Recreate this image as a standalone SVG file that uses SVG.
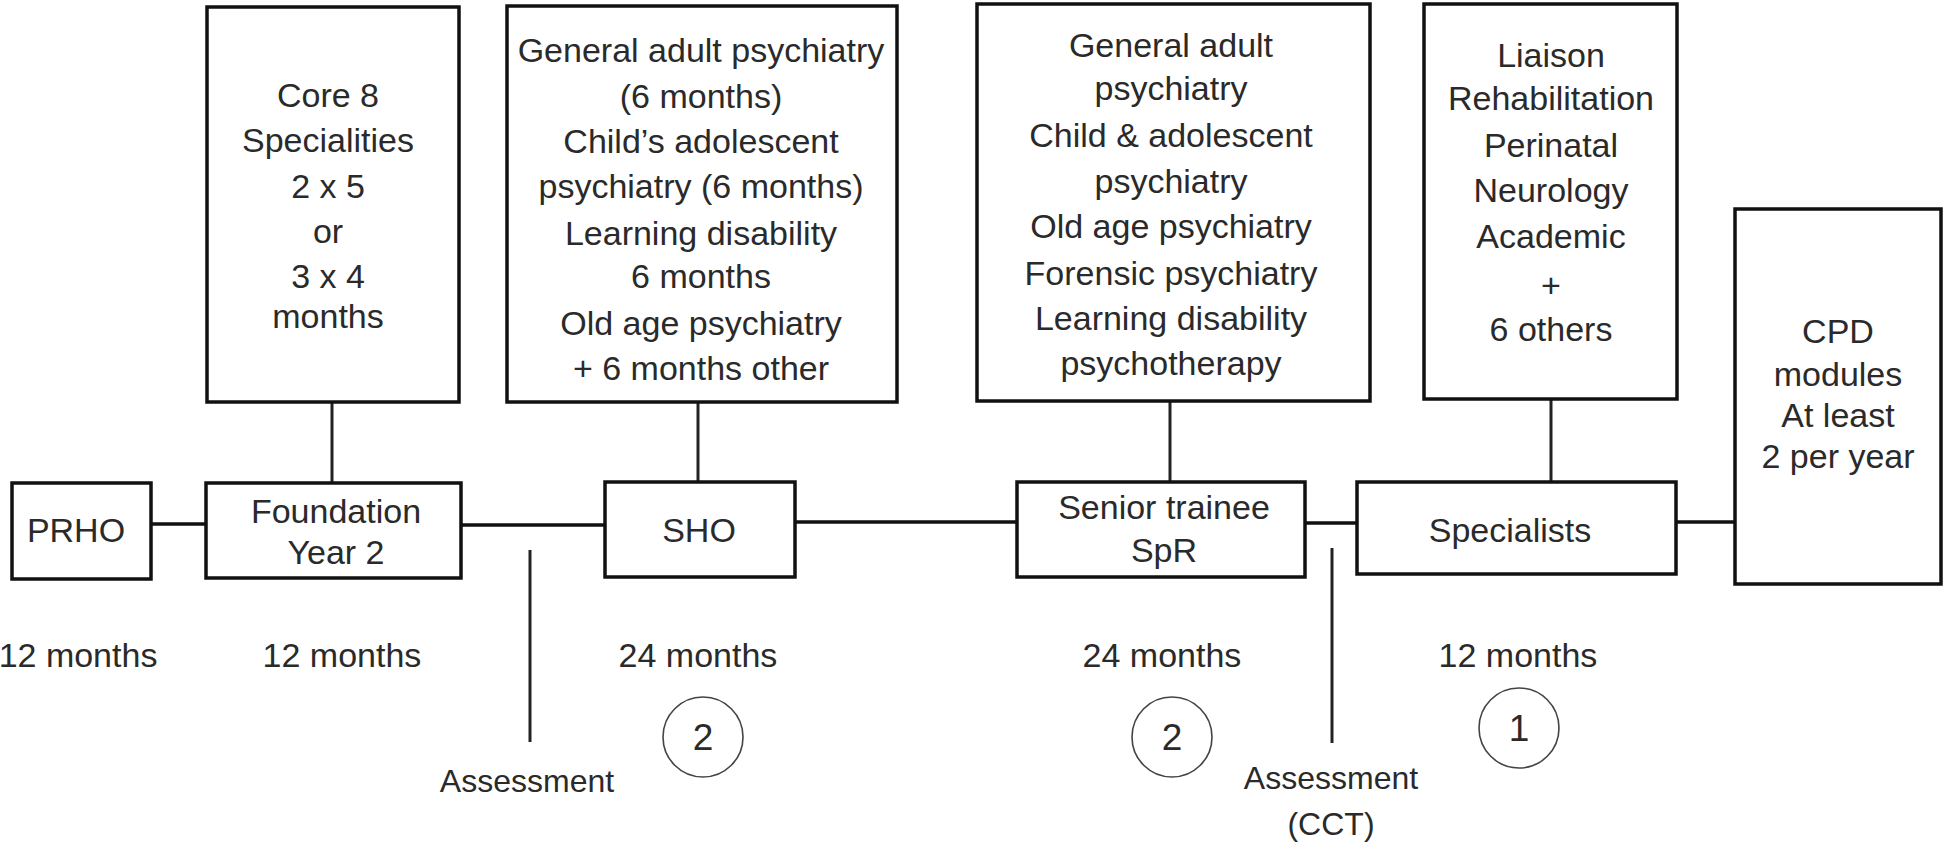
<svg xmlns="http://www.w3.org/2000/svg" width="1946" height="847" viewBox="0 0 1946 847">
<style>
  .box { fill: #fff; stroke: #111; stroke-width: 3.5; }
  .ln { stroke: #111; stroke-width: 3.5; fill: none; }
  .vl { stroke: #222; stroke-width: 3; fill: none; }
  .circ { fill: none; stroke: #444; stroke-width: 1.6; }
  text { font-family: "Liberation Sans", Arial, sans-serif; font-size: 34px; fill: #2a2a2a; text-anchor: middle; }
  .sm { font-size: 32px; }
  .num { font-size: 37px; }
</style>
<rect width="1946" height="847" fill="#fff"/>

<g id="connectors">
  <line class="vl" x1="332" y1="402" x2="332" y2="483"/>
  <line class="vl" x1="698" y1="402" x2="698" y2="482"/>
  <line class="vl" x1="1170" y1="401" x2="1170" y2="482"/>
  <line class="vl" x1="1551" y1="399" x2="1551" y2="481"/>
  <line class="ln" x1="151" y1="524" x2="206" y2="524"/>
  <line class="ln" x1="461" y1="525" x2="605" y2="525"/>
  <line class="ln" x1="795" y1="522" x2="1017" y2="522"/>
  <line class="ln" x1="1305" y1="523" x2="1357" y2="523"/>
  <line class="ln" x1="1676" y1="522" x2="1735" y2="522"/>
  <line class="vl" x1="530" y1="550" x2="530" y2="742"/>
  <line class="vl" x1="1332" y1="548" x2="1332" y2="743"/>
</g>

<g id="core8">
  <rect class="box" x="207" y="7" width="252" height="395"/>
  <text x="328" y="107">Core 8</text>
  <text x="328" y="152">Specialities</text>
  <text x="328" y="198">2 x 5</text>
  <text x="328" y="243">or</text>
  <text x="328" y="288">3 x 4</text>
  <text x="328" y="328">months</text>
</g>

<g id="sho-rotations">
  <rect class="box" x="507" y="6" width="390" height="396"/>
  <text x="701" y="62">General adult psychiatry</text>
  <text x="701" y="108">(6 months)</text>
  <text x="701" y="153">Child’s adolescent</text>
  <text x="701" y="198">psychiatry (6 months)</text>
  <text x="701" y="245">Learning disability</text>
  <text x="701" y="288">6 months</text>
  <text x="701" y="335">Old age psychiatry</text>
  <text x="701" y="380">+ 6 months other</text>
</g>

<g id="spr-specialties">
  <rect class="box" x="977" y="4" width="393" height="397"/>
  <text x="1171" y="57">General adult</text>
  <text x="1171" y="100">psychiatry</text>
  <text x="1171" y="147">Child &amp; adolescent</text>
  <text x="1171" y="193">psychiatry</text>
  <text x="1171" y="238">Old age psychiatry</text>
  <text x="1171" y="285">Forensic psychiatry</text>
  <text x="1171" y="330">Learning disability</text>
  <text x="1171" y="375">psychotherapy</text>
</g>

<g id="subspecialties">
  <rect class="box" x="1424" y="4" width="253" height="395"/>
  <text x="1551" y="67">Liaison</text>
  <text x="1551" y="110">Rehabilitation</text>
  <text x="1551" y="157">Perinatal</text>
  <text x="1551" y="202">Neurology</text>
  <text x="1551" y="248">Academic</text>
  <text x="1551" y="297">+</text>
  <text x="1551" y="341">6 others</text>
</g>

<g id="prho">
  <rect class="box" x="12" y="483" width="139" height="96"/>
  <text x="76" y="542">PRHO</text>
</g>

<g id="foundation">
  <rect class="box" x="206" y="483" width="255" height="95"/>
  <text x="336" y="523">Foundation</text>
  <text x="336" y="564">Year 2</text>
</g>

<g id="sho">
  <rect class="box" x="605" y="482" width="190" height="95"/>
  <text x="699" y="542">SHO</text>
</g>

<g id="senior">
  <rect class="box" x="1017" y="482" width="288" height="95"/>
  <text x="1164" y="519">Senior trainee</text>
  <text x="1164" y="562">SpR</text>
</g>

<g id="specialists">
  <rect class="box" x="1357" y="482" width="319" height="92"/>
  <text x="1510" y="542">Specialists</text>
</g>

<g id="cpd">
  <rect class="box" x="1735" y="209" width="206" height="375"/>
  <text x="1838" y="343">CPD</text>
  <text x="1838" y="386">modules</text>
  <text x="1838" y="427">At least</text>
  <text x="1838" y="468">2 per year</text>
</g>

<g id="durations">
  <text x="78" y="667">12 months</text>
  <text x="342" y="667">12 months</text>
  <text x="698" y="667">24 months</text>
  <text x="1162" y="667">24 months</text>
  <text x="1518" y="667">12 months</text>
</g>

<g id="assessments">
  <text class="sm" x="527" y="792">Assessment</text>
  <text class="sm" x="1331" y="789">Assessment</text>
  <text class="sm" x="1331" y="835">(CCT)</text>
</g>

<g id="circles">
  <circle class="circ" cx="703" cy="737" r="40"/>
  <text class="num" x="703" y="750">2</text>
  <circle class="circ" cx="1172" cy="737" r="40"/>
  <text class="num" x="1172" y="750">2</text>
  <circle class="circ" cx="1519" cy="728" r="40"/>
  <text class="num" x="1519" y="741">1</text>
</g>
</svg>
